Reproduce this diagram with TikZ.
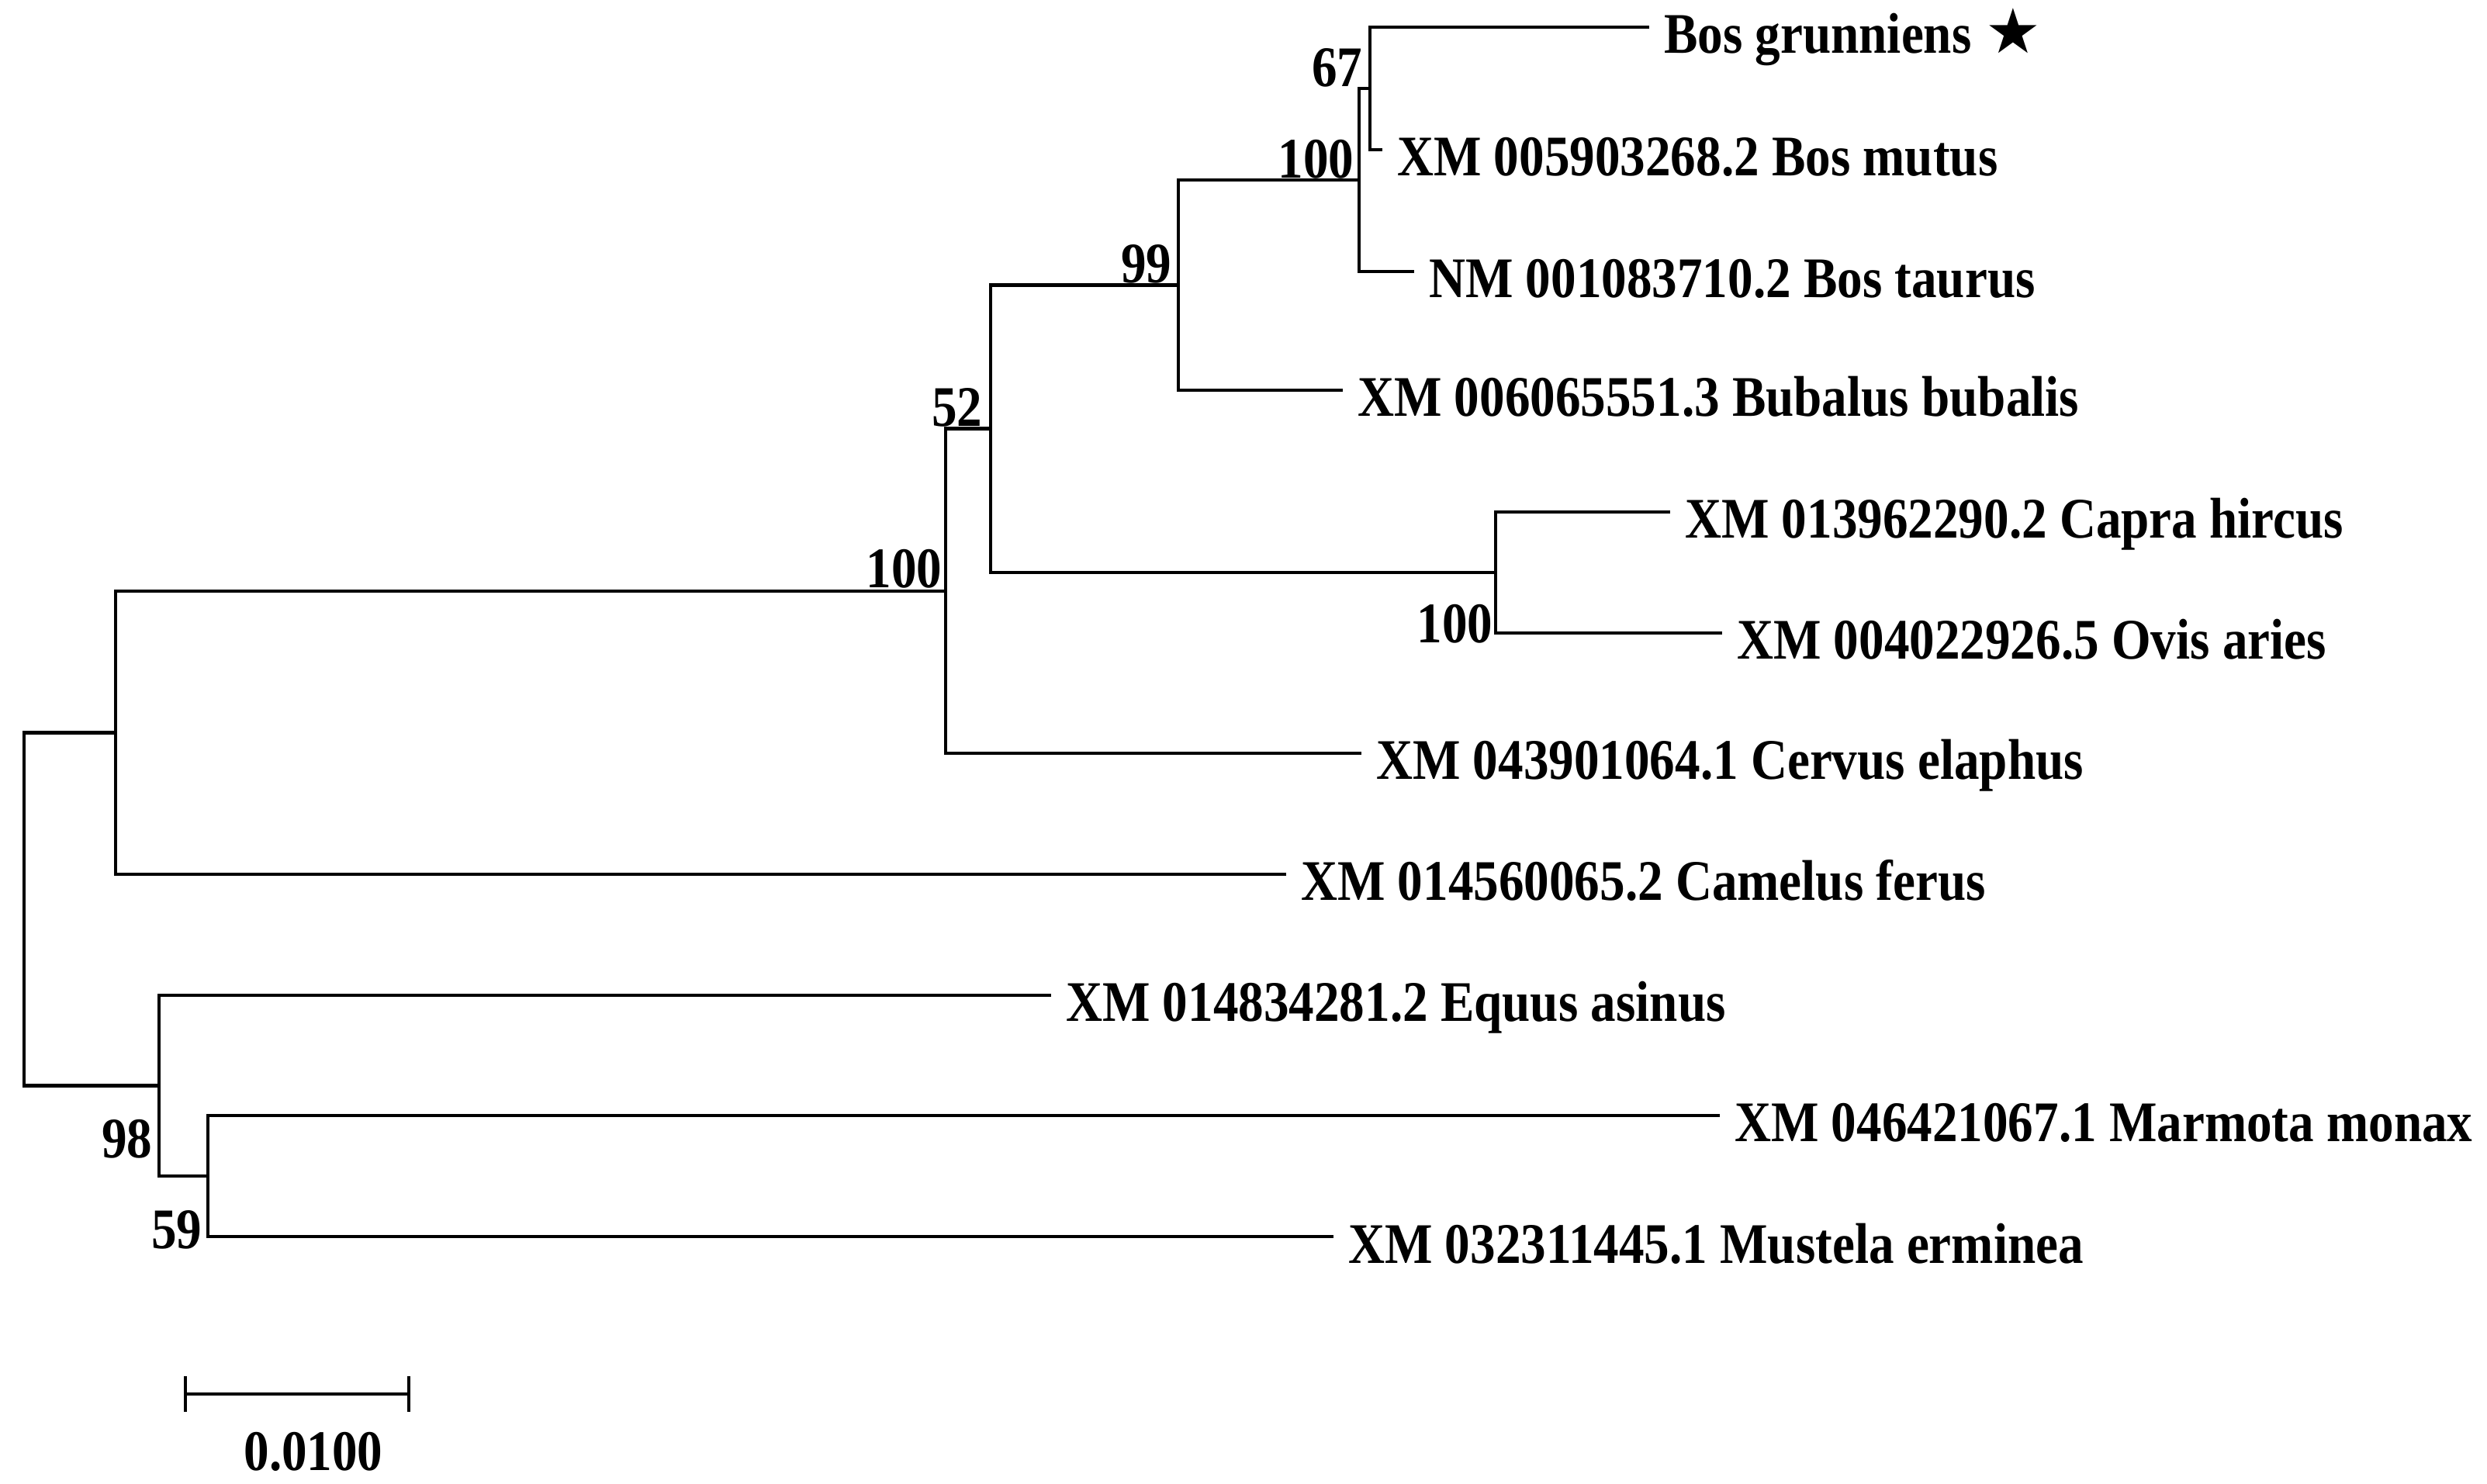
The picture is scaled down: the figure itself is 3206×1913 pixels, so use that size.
\documentclass[tikz,border=0pt]{standalone}
\usepackage{fontspec}
\usepackage{graphicx}
\setmainfont{Liberation Serif}
\newfontfamily\symfont{DejaVu Sans}
\newcommand\sqz[1]{\scalebox{0.88}[1]{#1}}
\begin{document}
\begin{tikzpicture}[x=0.25pt,y=-0.25pt,
  br/.style={line width=1.2pt, line join=miter, black},
  leaf/.style={anchor=base west, inner sep=0pt, xshift=4.6pt, yshift=-8.5pt,
    font=\bfseries\fontsize{18.5}{20}\selectfont},
  boot/.style={anchor=base east, inner sep=0pt, font=\bfseries\fontsize{18.5}{20}\selectfont}]
\useasboundingbox (0,0) rectangle (3206,1913);
% internal nodes
\coordinate (root) at (31,1172);
\coordinate (nA) at (149,944.5);
\coordinate (n98) at (205,1399.5);
\coordinate (n59) at (268,1516);
\coordinate (n100) at (1219,762);
\coordinate (n52) at (1277,552.75);
\coordinate (n99) at (1519,367.5);
\coordinate (nB) at (1752,232);
\coordinate (nG) at (1766,114);
\coordinate (nCO) at (1928,738);
% leaf ends
\coordinate (lG) at (2126,35);
\coordinate (lMu) at (1782,193);
\coordinate (lTa) at (1823,350);
\coordinate (lBu) at (1731,503);
\coordinate (lCa) at (2153,660);
\coordinate (lOv) at (2220,816);
\coordinate (lCe) at (1755,971);
\coordinate (lCm) at (1658,1127);
\coordinate (lEq) at (1355,1283);
\coordinate (lMa) at (2217,1438);
\coordinate (lMs) at (1719,1594);
% branches
\draw[br] (root) |- (nA);
\draw[br] (root) |- (n98);
\draw[br] (nA) |- (n100);
\draw[br] (nA) |- (lCm);
\draw[br] (n98) |- (lEq);
\draw[br] (n98) |- (n59);
\draw[br] (n59) |- (lMa);
\draw[br] (n59) |- (lMs);
\draw[br] (n100) |- (n52);
\draw[br] (n100) |- (lCe);
\draw[br] (n52) |- (n99);
\draw[br] (n52) |- (nCO);
\draw[br] (nCO) |- (lCa);
\draw[br] (nCO) |- (lOv);
\draw[br] (n99) |- (nB);
\draw[br] (n99) |- (lBu);
\draw[br] (nB) |- (nG);
\draw[br] (nB) |- (lTa);
\draw[br] (nG) |- (lG);
\draw[br] (nG) |- (lMu);
% leaf labels
\node[leaf] (tG) at (lG) {\sqz{Bos grunniens} {\symfont\fontsize{20}{22}\selectfont ★}};
\node[leaf] (tMu) at (lMu) {\sqz{XM 005903268.2 Bos mutus}};
\node[leaf] (tTa) at (lTa) {\sqz{NM 001083710.2 Bos taurus}};
\node[leaf] (tBu) at (lBu) {\sqz{XM 006065551.3 Bubalus bubalis}};
\node[leaf] (tCa) at (lCa) {\sqz{XM 013962290.2 Capra hircus}};
\node[leaf] (tOv) at (lOv) {\sqz{XM 004022926.5 Ovis aries}};
\node[leaf] (tCe) at (lCe) {\sqz{XM 043901064.1 Cervus elaphus}};
\node[leaf] (tCm) at (lCm) {\sqz{XM 014560065.2 Camelus ferus}};
\node[leaf] (tEq) at (lEq) {\sqz{XM 014834281.2 Equus asinus}};
\node[leaf] (tMa) at (lMa) {\sqz{XM 046421067.1 Marmota monax}};
\node[leaf] (tMs) at (lMs) {\sqz{XM 032311445.1 Mustela erminea}};
% bootstrap values
\node[boot] (b67) at (1757,112) {\sqz{67}};
\node[boot] (b100a) at (1746,230) {\sqz{100}};
\node[boot] (b99) at (1511,365) {\sqz{99}};
\node[boot] (b52) at (1267,550) {\sqz{52}};
\node[boot] (b100b) at (1215,758) {\sqz{100}};
\node[boot] (b100c) at (1925,829) {\sqz{100}};
\node[boot] (b98) at (197,1493) {\sqz{98}};
\node[boot] (b59) at (261,1610) {\sqz{59}};
% scale bar
\coordinate (sb1) at (239,1797);
\coordinate (sb2) at (527,1797);
\draw[br] (sb1) -- (sb2);
\draw[br] ([yshift=5.75pt]sb1) -- ([yshift=-5.75pt]sb1);
\draw[br] ([yshift=5.75pt]sb2) -- ([yshift=-5.75pt]sb2);
\node[anchor=base, inner sep=0pt, font=\bfseries\fontsize{18.5}{20}\selectfont] (sbl) at (404,1895) {\sqz{0.0100}};
\end{tikzpicture}
\end{document}
